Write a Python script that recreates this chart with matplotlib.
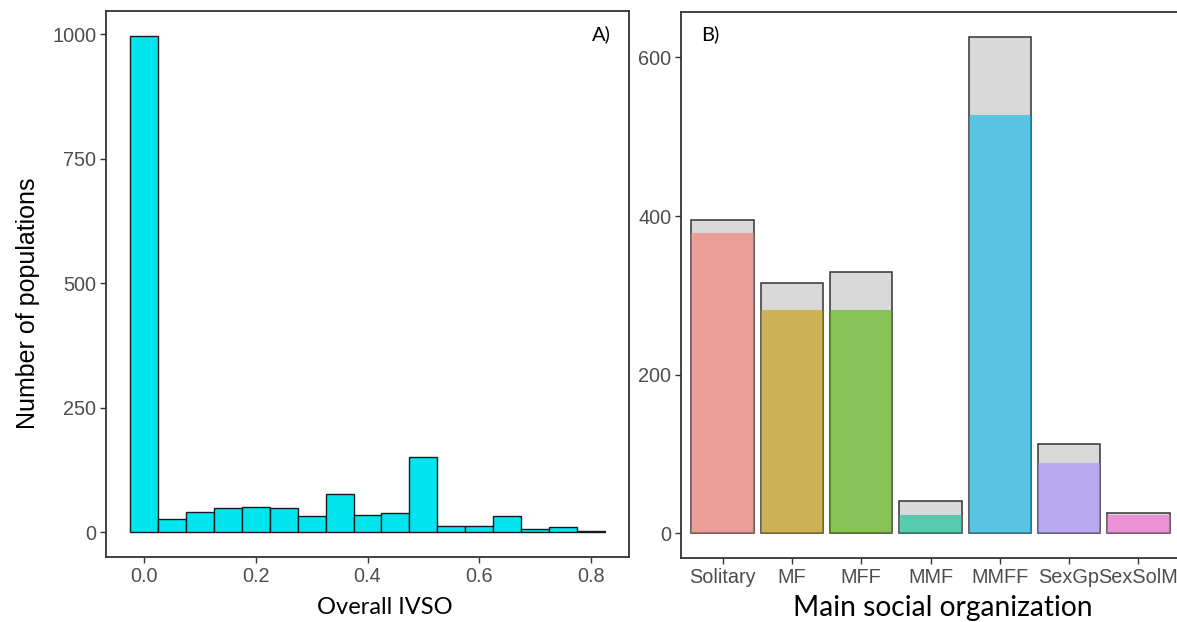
import matplotlib
matplotlib.use("Agg")
import matplotlib.pyplot as plt
import numpy as np

plt.rcParams["font.family"] = ["Liberation Sans", "DejaVu Sans"]

# ---------------- data ----------------
ivso_bins = [0.0, 0.05, 0.10, 0.15, 0.20, 0.25, 0.30, 0.35, 0.40, 0.45,
             0.50, 0.55, 0.60, 0.65, 0.70, 0.75, 0.80]
ivso_counts = [997, 26, 40, 49, 51, 48, 33, 77, 34, 38,
               152, 13, 12, 32, 7, 11, 3]
ivso_ticks = [0.0, 0.2, 0.4, 0.6, 0.8]
ivso_yticks = [0, 250, 500, 750, 1000]

org_categories = ["Solitary", "MF", "MFF", "MMF", "MMFF", "SexGp", "SexSolM"]
org_total = [395, 316, 329, 40, 626, 113, 25]
org_subset = [379, 282, 282, 23, 527, 89, 23]
org_colors = ["#F8766D", "#C49A00", "#53B400", "#00C094", "#00B6EB", "#A58AFF", "#FB61D7"]
org_yticks = [0, 200, 400, 600]

# ---------------- figure ----------------
W, H = 1177, 622
fig = plt.figure(figsize=(W / 100, H / 100), dpi=100)

def px_axes(x0, y0, x1, y1):
    return fig.add_axes([x0 / W, 1 - y1 / H, (x1 - x0) / W, (y1 - y0) / H])

tick_col = "#4D4D4D"
spine_col = "#333333"
title_font = ["Lato", "DejaVu Sans"]

def style(ax):
    for s in ax.spines.values():
        s.set_color(spine_col)
        s.set_linewidth(1.3)
    ax.tick_params(axis="both", direction="out", length=4, width=1,
                   color=spine_col, labelcolor=tick_col, labelsize=14.3, pad=3)

# ---- Panel A ----
axA = px_axes(106, 11, 629, 557)
axA.bar(ivso_bins, ivso_counts, width=0.05, align="center",
        color="#00E5EE", edgecolor="#1a1a1a", linewidth=1.0)
span = 0.85
axA.set_xlim(-0.025 - 0.05 * span, 0.825 + 0.05 * span)
ymax = max(ivso_counts)
axA.set_ylim(-0.05 * ymax, ymax * 1.05)
axA.set_xticks(ivso_ticks)
axA.set_xticklabels([f"{t:.1f}" for t in ivso_ticks])
axA.set_yticks(ivso_yticks)
axA.set_yticklabels([str(t) for t in ivso_yticks])
style(axA)
axA.text(0.947, 0.957, "A)", transform=axA.transAxes, ha="center", va="center",
         fontsize=14.5, family=title_font, color="black")

# ---- Panel B ----
axB = px_axes(681, 12, 1180, 558)
x = np.arange(len(org_categories))
axB.bar(x, org_total, width=0.9, color="#D9D9D9", edgecolor="#333333", linewidth=1.1, zorder=2)
axB.bar(x, org_subset, width=0.9, color=org_colors, alpha=0.6, edgecolor="none", zorder=3)
axB.set_xlim(-0.6, len(org_categories) - 1 + 0.6)
tmax = max(org_total)
axB.set_ylim(-0.05 * tmax, tmax * 1.05)
axB.set_xticks(x)
axB.set_xticklabels(org_categories)
axB.set_yticks(org_yticks)
axB.set_yticklabels([str(t) for t in org_yticks])
style(axB)
axB.spines["right"].set_visible(False)
axB.text(0.058, 0.96, "B)", transform=axB.transAxes, ha="center", va="center",
         fontsize=14.5, family=title_font, color="black")

# ---- axis titles ----
fig.text(28 / W, 1 - 303 / H, "Number of populations", rotation=90,
         ha="center", va="center", fontsize=18, family="Liberation Sans", color="black")
fig.text(385 / W, 1 - 608 / H, "Overall IVSO", ha="center", va="center",
         fontsize=17, family=title_font, color="black")
fig.text(943 / W, 1 - 608 / H, "Main social organization", ha="center", va="center",
         fontsize=20.3, family=title_font, color="black")

fig.savefig("out.png", dpi=100)
